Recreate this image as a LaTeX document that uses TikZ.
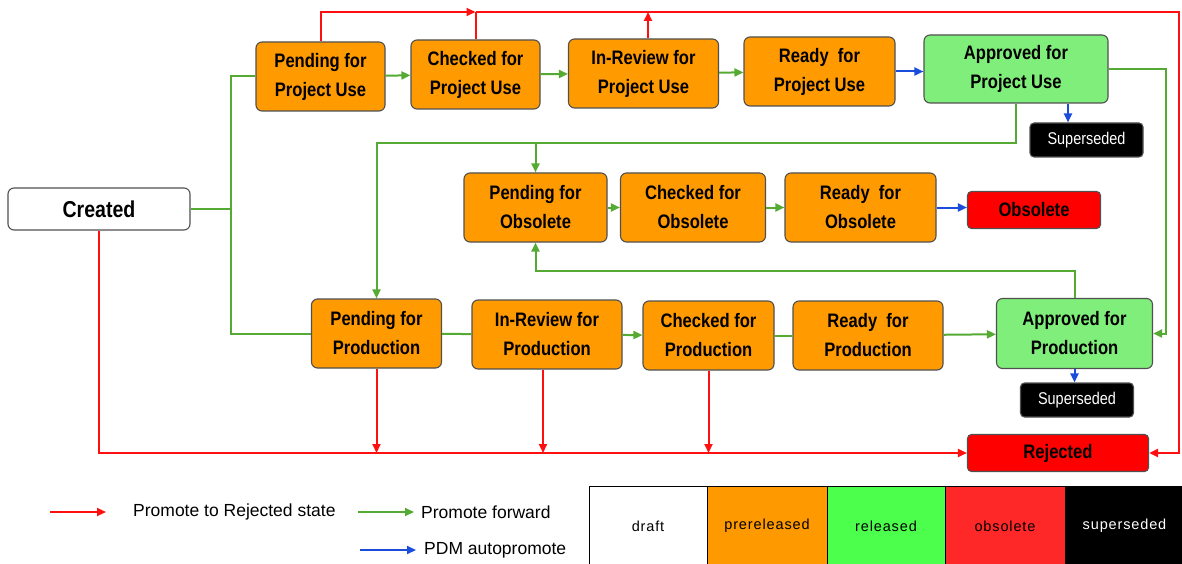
\documentclass[tikz,border=0pt]{standalone}
\usepackage{fontspec}
\setmainfont{Liberation Sans}
\newfontfamily\narrowfont[FakeStretch=0.85]{Liberation Sans}
\newfontfamily\spacedfont[LetterSpace=6]{Liberation Sans}
\usetikzlibrary{arrows.meta}
\definecolor{boxorange}{HTML}{FF9A00}
\definecolor{boxgreen}{HTML}{80EE7A}
\definecolor{boxborder}{HTML}{505050}
\definecolor{flowgreen}{HTML}{55AA33}
\definecolor{flowred}{HTML}{FF1010}
\definecolor{flowblue}{HTML}{1A4DDB}
\definecolor{tabgreen}{HTML}{4DFF4D}
\definecolor{tabred}{HTML}{FF2828}
\definecolor{taborange}{HTML}{FF9900}
\begin{document}
\begin{tikzpicture}[x=1pt,y=-1pt,
  state/.style={draw=boxborder, line width=1.1pt, rounded corners=6pt,
    inner sep=0pt, align=center,
    font={\narrowfont\bfseries\fontsize{19.5}{29}\selectfont}},
  pre/.style={state, fill=boxorange},
  rel/.style={state, fill=boxgreen},
  sup/.style={state, fill=black, text=white, rounded corners=4pt,
    font={\narrowfont\fontsize{17}{20}\selectfont}},
  conn/.style={line width=2pt},
  tip/.style={-{Triangle[length=9pt,width=8pt]}},
  gline/.style={conn, draw=flowgreen},
  garr/.style={gline, tip},
  rline/.style={conn, draw=flowred},
  rarr/.style={rline, tip},
  barr/.style={conn, draw=flowblue, tip},
  legtext/.style={anchor=west, inner sep=0pt, font={\fontsize{17.5}{20}\selectfont}},
  cell/.style={draw=black, line width=1pt, minimum height=80, inner sep=0pt,
    font={\spacedfont\fontsize{14.5}{16}\selectfont}},
]
\useasboundingbox[fill=white] (0,0) rectangle (1182,564);

% --- states ---
\node[state, fill=white, minimum width=182, minimum height=42,
  font={\narrowfont\bfseries\fontsize{23}{26}\selectfont}] (created) at (99,209) {Created};

\node[pre, minimum width=129, minimum height=69] (ppu) at (320.5,76.5) {Pending for\\Project Use};
\node[pre, minimum width=129, minimum height=69] (cpu) at (475.5,74.5) {Checked for\\Project Use};
\node[pre, minimum width=150, minimum height=69] (ipu) at (643.5,73.5) {In-Review for\\Project Use};
\node[pre, minimum width=151, minimum height=69] (rpu) at (819.5,71.5) {Ready~ for\\Project Use};
\node[rel, minimum width=184, minimum height=68] (apu) at (1016,69) {Approved for\\Project Use};
\node[sup, minimum width=113, minimum height=34] (sup1) at (1086.5,140) {Superseded};

\node[pre, minimum width=143, minimum height=69] (pfo) at (535.5,207.5) {Pending for\\Obsolete};
\node[pre, minimum width=145, minimum height=69] (cfo) at (693,207.5) {Checked for\\Obsolete};
\node[pre, minimum width=151, minimum height=69] (rfo) at (860.5,207.5) {Ready~ for\\Obsolete};
\node[state, fill=red, rounded corners=4pt, minimum width=133, minimum height=37] (obs) at (1034,210) {Obsolete};

\node[pre, minimum width=130, minimum height=69] (pfp) at (376.5,333.5) {Pending for\\Production};
\node[pre, minimum width=150, minimum height=69] (ifp) at (547,334.5) {In-Review for\\Production};
\node[pre, minimum width=131, minimum height=69] (cfp) at (708.5,335.5) {Checked for\\Production};
\node[pre, minimum width=150, minimum height=69] (rfp) at (868,335.5) {Ready~ for\\Production};
\node[rel, minimum width=156, minimum height=70] (afp) at (1074.5,333.5) {Approved for\\Production};
\node[sup, minimum width=113, minimum height=34] (sup2) at (1077,400) {Superseded};

\node[state, fill=red, rounded corners=4pt, minimum width=181, minimum height=37] (rej) at (1058,453) {Rejected};

% --- promote forward (green) ---
\coordinate (gjoin) at (231,209);
\coordinate (gtop) at (231,76.5);
\coordinate (gbot) at (231,333.5);
\draw[gline] (created.east) -- (gjoin);
\draw[gline, line join=miter] (ppu.west) -- (gtop) -- (gbot) -- (pfp.west);

\draw[garr] (ppu) -- (cpu);
\draw[garr] (cpu) -- (ipu);
\draw[garr] (ipu) -- (rpu);

\coordinate (gright) at (1166,69);
\draw[garr] (apu.east) -- (gright) |- (afp.east);

\coordinate (gmid) at (1016,143);
\coordinate (gleft) at (376.5,143);
\coordinate (gfork) at (535.5,143);
\draw[garr] (apu.south) -- (gmid) -- (gleft) -- (pfp.north);
\draw[garr] (gfork) -- (pfo.north);

\coordinate (gback) at (1074.5,271);
\coordinate (gbackl) at (535.5,271);
\draw[garr] (afp.north) -- (gback) -- (gbackl) -- (pfo.south);

\draw[garr] (pfo) -- (cfo);
\draw[garr] (cfo) -- (rfo);

\draw[gline] (pfp) -- (ifp);
\draw[garr] (ifp) -- (cfp);
\draw[gline] (cfp) -- (rfp);
\draw[garr] (rfp) -- (afp);

% --- PDM autopromote (blue) ---
\draw[barr] (rpu.east) -- (apu.west |- rpu.east);
\draw[barr] (rfo.east) -- (obs.west |- rfo.east);
\draw[barr] ([xshift=52pt]apu.south) -- ([xshift=52pt]apu.south |- sup1.north);
\draw[barr] (afp.south) -- (afp.south |- sup2.north);

% --- promote to rejected (red) ---
\coordinate (rtop) at (475.5,12);
\coordinate (rcorner) at (1179,12);
\draw[rarr] (ppu.north) |- (rtop);
\draw[rline] (cpu.north) -- (rtop);
\draw[rarr] ([xshift=4.5pt]ipu.north) -- ([xshift=4.5pt]ipu.north |- rtop);
\draw[rarr] (rtop) -- (rcorner) |- (rej.east);
\draw[rarr] (created.south) |- (rej.west);
\draw[rarr] (pfp.south) -- (pfp.south |- rej.west);
\draw[rarr] ([xshift=-4pt]ifp.south) -- ([xshift=-4pt]ifp.south |- rej.west);
\draw[rarr] (cfp.south) -- (cfp.south |- rej.west);

% --- legend ---
\coordinate (lr1) at (50,512);  \coordinate (lr2) at (106,512);
\coordinate (lg1) at (358,512); \coordinate (lg2) at (414,512);
\coordinate (lb1) at (360,550); \coordinate (lb2) at (416,550);
\draw[rarr] (lr1) -- (lr2);
\draw[garr] (lg1) -- (lg2);
\draw[barr] (lb1) -- (lb2);
\node[legtext] (lrt) at (133,512) {Promote to Rejected state};
\node[legtext] (lgt) at (421,512) {Promote forward};
\node[legtext] (lbt) at (424,550) {PDM autopromote};

% --- colour key ---
\node[cell, fill=white, minimum width=118] (kdraft) at (648,526) {draft};
\node[cell, fill=taborange, minimum width=120] (kpre) at (767,526) {prereleased};
\node[cell, fill=tabgreen, minimum width=118] (krel) at (886,526) {released};
\node[cell, fill=tabred, minimum width=120] (kobs) at (1005,526) {obsolete};
\node[cell, fill=black, text=white, minimum width=119] (ksup) at (1124.5,526) {superseded};
\end{tikzpicture}
\end{document}
